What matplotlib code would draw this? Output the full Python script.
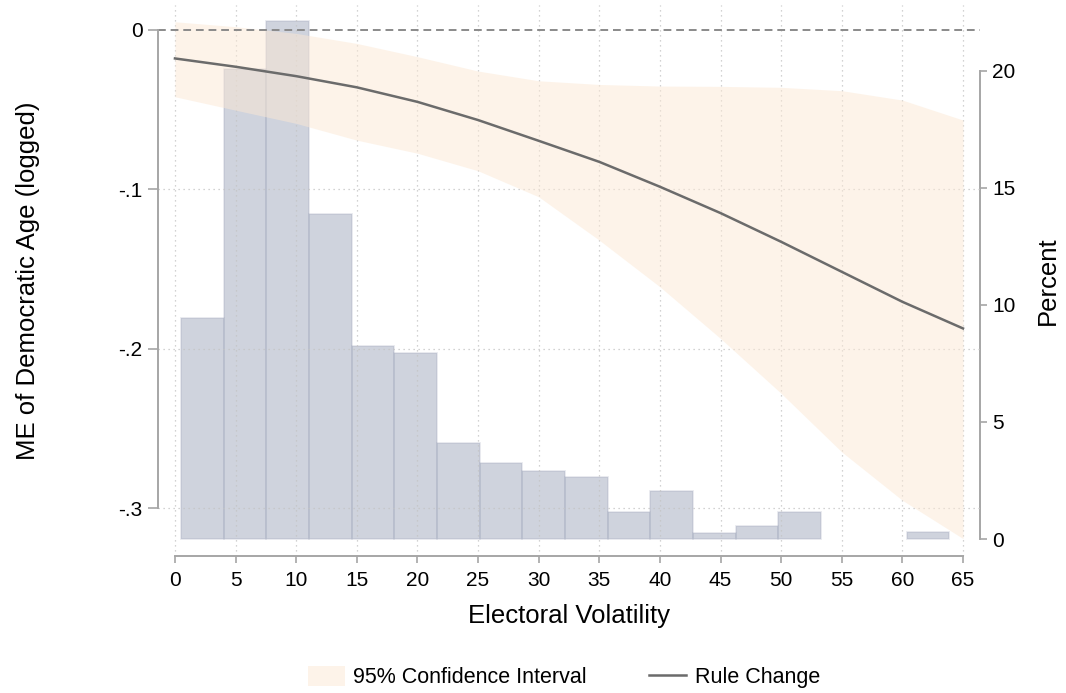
import numpy as np
import matplotlib
matplotlib.use('Agg')
import matplotlib.pyplot as plt

plt.rcParams['font.family'] = ['Liberation Sans', 'DejaVu Sans']

# marginal effect of democratic age across electoral volatility
volatility = [0, 5, 10, 15, 20, 25, 30, 35, 40, 45, 50, 55, 60, 65]
me_rule_change = [-0.0181, -0.0233, -0.0292, -0.0362, -0.0453, -0.0567, -0.0697,
                  -0.0829, -0.0985, -0.1150, -0.1330, -0.1518, -0.1706, -0.1873]
ci_upper = [0.0049, 0.0018, -0.0024, -0.0087, -0.0170, -0.0260, -0.0321,
            -0.0344, -0.0354, -0.0356, -0.0362, -0.0383, -0.0442, -0.0567]
ci_lower = [-0.0421, -0.0505, -0.0588, -0.0693, -0.0775, -0.0885, -0.1048,
            -0.1320, -0.1612, -0.1936, -0.2280, -0.2647, -0.2950, -0.3190]

# distribution of electoral volatility (percent of observations per bin)
bin_start = 0.5
bin_width = 3.52
pct_obs = [9.43, 20.07, 22.15, 13.87, 8.25, 7.96, 4.12, 3.23, 2.92, 2.64,
           1.17, 2.04, 0.27, 0.56, 1.15, 0.0, 0.0, 0.29]

x_ticks = list(range(0, 70, 5))
left_ticks = [0, -0.1, -0.2, -0.3]
left_labels = ['0', '-.1', '-.2', '-.3']
right_ticks = [0, 5, 10, 15, 20]

spine_col = '#a6a6a6'
grid_col = '#c4c4c4'

fig = plt.figure(figsize=(10.66, 6.93), dpi=100)
ax = fig.add_axes([0.1482, 0.1977, 0.9193 - 0.1482, 0.9928 - 0.1977])
ax2 = ax.twinx()

# histogram sits underneath, main axes drawn on top with a clear patch
ax.set_zorder(ax2.get_zorder() + 1)
ax.patch.set_visible(False)

lefts = bin_start + bin_width * np.arange(len(pct_obs))
bar_h = np.array(pct_obs)
keep = bar_h > 0
ax2.bar(lefts[keep], bar_h[keep], width=bin_width, align='edge',
        color=(161/255, 169/255, 189/255, 0.5),
        edgecolor=(150/255, 158/255, 180/255, 0.25), linewidth=1.2)

ax.fill_between(volatility, ci_lower, ci_upper, color=(252/255, 232/255, 212/255, 0.5),
                linewidth=0, label='95% Confidence Interval')
ax.plot(volatility, me_rule_change, color='#6b6b6b', lw=1.8, label='Rule Change')
ax.axhline(0, color='#8a8a8a', lw=1.4, ls=(0, (4, 2.5)), zorder=1)

ax.set_xlim(-1.4, 66.4)
ax.set_ylim(-0.3299, 0.0154)
ax2.set_ylim(-0.726, 22.82)

for x in x_ticks:
    ax.axvline(x, color=grid_col, lw=0.9, ls=(0, (1, 3)), zorder=0)
for y in left_ticks[1:]:
    ax.axhline(y, color=grid_col, lw=0.9, ls=(0, (1, 3)), zorder=0)

ax.set_xticks(x_ticks)
ax.set_yticks(left_ticks)
ax.set_yticklabels(left_labels)
ax2.set_yticks(right_ticks)

for a in (ax, ax2):
    for s in a.spines.values():
        s.set_color(spine_col)
        s.set_linewidth(1.4)
    a.spines['top'].set_visible(False)
ax.spines['right'].set_visible(False)
ax2.spines['left'].set_visible(False)
ax2.spines['bottom'].set_visible(False)
ax.spines['left'].set_bounds(-0.3, 0)
ax.spines['bottom'].set_bounds(0, 65)
ax2.spines['right'].set_bounds(0, 20)

ax.tick_params(axis='x', length=5, width=1.2, color=spine_col, labelsize=15, pad=6)
ax.tick_params(axis='y', length=7, width=1.2, color=spine_col, labelsize=15, pad=4)
ax2.tick_params(axis='y', length=5, width=1.2, color=spine_col, labelsize=15, pad=4)

ax.set_xlabel('Electoral Volatility', fontsize=18.5)
ax.set_ylabel('ME of Democratic Age (logged)', fontsize=18.5)
ax2.set_ylabel('Percent', fontsize=18.5)
ax.xaxis.set_label_coords(0.5, -0.087)
ax.yaxis.set_label_coords(-0.143, 0.5)
ax2.yaxis.set_label_coords(1.068, 0.5)

fig.legend(loc='center', bbox_to_anchor=(0.529, 0.023), ncol=2, frameon=False,
           fontsize=15.5, handlelength=1.7, handleheight=1.1, handletextpad=0.4,
           columnspacing=2.9)

fig.savefig('out.png', dpi=100)
